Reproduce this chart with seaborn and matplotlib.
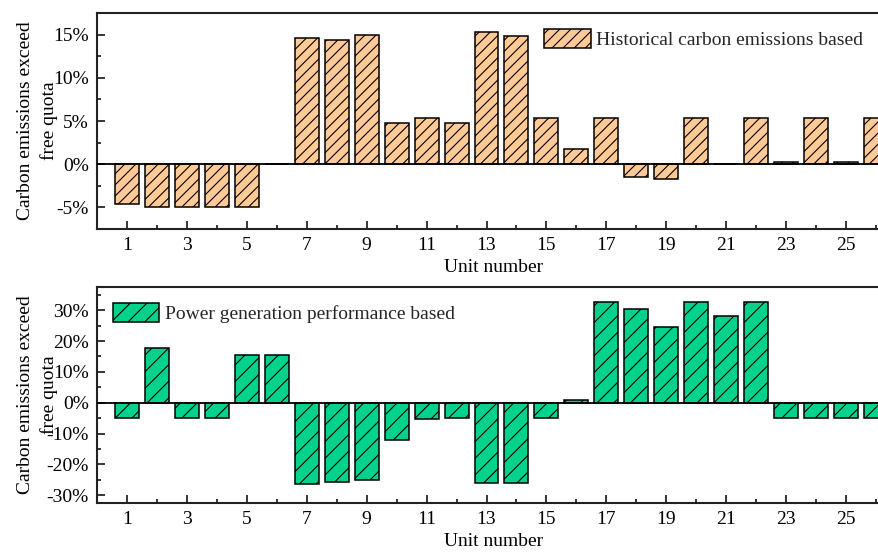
import numpy as np
import pandas as pd
import matplotlib
matplotlib.use("Agg")
import matplotlib.pyplot as plt
from matplotlib.patches import Patch
from matplotlib.ticker import MultipleLocator, FuncFormatter
import seaborn as sns

units = list(range(1, 27))

historical = [-4.55, -5.0, -5.0, -5.0, -5.0, 0.0,
              14.65, 14.4, 15.0, 4.77, 5.3, 4.8, 15.27, 14.84, 5.3, 1.74,
              5.3, -1.44, -1.67, 5.3, 0.05, 5.3, 0.23, 5.3, 0.2, 5.3]

performance = [-5.0, 17.8, -5.0, -5.0, 15.5, 15.5,
               -26.4, -25.6, -24.9, -12.1, -5.3, -5.0, -26.0, -26.0, -5.0, 0.75,
               32.5, 30.4, 24.4, 32.5, 28.0, 32.5, -5.0, -5.0, -5.0, -5.0]

x_ticks = list(range(1, 26, 2))
hist_label = "Historical carbon emissions based"
perf_label = "Power generation performance based"
y_label = "Carbon emissions exceed\nfree quota"
x_label = "Unit number"

sns.set_theme(style="ticks")
plt.rcParams["font.family"] = ["Liberation Serif", "DejaVu Serif"]
plt.rcParams["hatch.linewidth"] = 0.8
plt.rcParams["hatch.color"] = "black"

FS = 14
W, H = 879, 554
fig = plt.figure(figsize=(W / 100, H / 100), dpi=100)

left = 97 / W
width = (891 - 97) / W
ax1 = fig.add_axes([left, 1 - 229 / H, width, (229 - 13) / H])
ax2 = fig.add_axes([left, 1 - 503 / H, width, (503 - 287) / H])

orange = "#FFCA96"
green = "#03D28D"

df1 = pd.DataFrame({"unit": units, "value": historical})
df2 = pd.DataFrame({"unit": units, "value": performance})

sns.barplot(data=df1, x="unit", y="value", native_scale=True, width=0.8,
            color=orange, saturation=1, edgecolor="black", linewidth=1.1, ax=ax1)
sns.barplot(data=df2, x="unit", y="value", native_scale=True, width=0.8,
            color=green, saturation=1, edgecolor="black", linewidth=1.1, ax=ax2)

for p in ax1.patches:
    p.set_hatch("///")
for p in ax2.patches:
    p.set_hatch("//")

pct = FuncFormatter(lambda v, pos: f"{v:.0f}%")

def style(ax, ylim, major, minor):
    ax.set_xlim(0, 26.5)
    ax.set_ylim(*ylim)
    ax.axhline(0, color="black", lw=1.3, zorder=5)
    ax.xaxis.set_major_locator(plt.FixedLocator(x_ticks))
    ax.xaxis.set_minor_locator(MultipleLocator(1))
    ax.set_xticklabels([str(t) for t in x_ticks])
    ax.yaxis.set_major_locator(MultipleLocator(major))
    ax.yaxis.set_minor_locator(MultipleLocator(minor))
    ax.yaxis.set_major_formatter(pct)
    ax.tick_params(axis="both", which="major", direction="in", length=6,
                   width=1.1, labelsize=FS, colors="black", pad=6)
    ax.tick_params(axis="both", which="minor", direction="in", length=3,
                   width=1.1, colors="black")
    ax.tick_params(axis="y", which="both", right=False)
    ax.tick_params(axis="x", which="both", top=False)
    for s in ax.spines.values():
        s.set_color("#222222")
        s.set_linewidth(1.5)
    ax.spines["right"].set_visible(False)
    ax.set_xlabel(x_label, fontsize=FS, color="black", labelpad=3)
    ax.set_ylabel(y_label, fontsize=FS, color="black", labelpad=0,
                  linespacing=1.45)
    ax.yaxis.set_label_coords(-0.049, 0.5)

style(ax1, (-7.5, 17.5), 5, 2.5)
style(ax2, (-32.5, 37.5), 10, 5)

h1 = Patch(facecolor=orange, edgecolor="black", hatch="///", linewidth=1.1)
h2 = Patch(facecolor=green, edgecolor="black", hatch="//", linewidth=1.1)
ax1.legend([h1], [hist_label], loc="upper left",
           bbox_to_anchor=((541 - 97) / (891 - 97) - 0.016, 1.0),
           frameon=False, fontsize=FS, handlelength=2.4, handleheight=1.15,
           handletextpad=0.3, borderaxespad=0.4)
ax2.legend([h2], [perf_label], loc="upper left",
           bbox_to_anchor=(0.0, 1.0),
           frameon=False, fontsize=FS, handlelength=2.4, handleheight=1.15,
           handletextpad=0.3, borderaxespad=0.4)

fig.savefig("out.png", dpi=100)
